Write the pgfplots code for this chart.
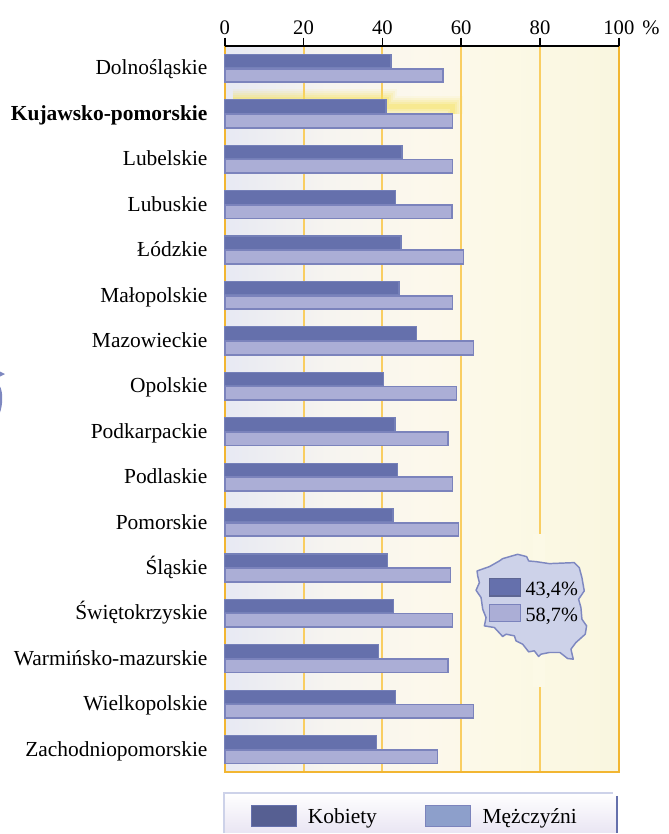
\documentclass[border=0pt]{standalone}
\usepackage{fontspec}
\setmainfont{Liberation Serif}
\usepackage{pgfplots}
\pgfplotsset{compat=1.18}
\definecolor{kob}{HTML}{6570AC}
\definecolor{kobedge}{HTML}{7580B8}
\definecolor{men}{HTML}{ABAED6}
\definecolor{menedge}{HTML}{7B83BC}
\definecolor{gridor}{HTML}{F9CE62}
\definecolor{frameor}{HTML}{F2B632}
\definecolor{mapfill}{HTML}{CDD2E9}
\definecolor{mapedge}{HTML}{7E88C0}
\definecolor{glow}{HTML}{F7E35A}
\definecolor{bgA}{HTML}{E7E9F3}
\definecolor{bgB}{HTML}{F6F4F0}
\definecolor{bgC}{HTML}{FCF8EC}
\definecolor{bgD}{HTML}{FCF9E6}
\definecolor{bgE}{HTML}{F9F6DF}
\definecolor{legA}{HTML}{E9E5F3}
\pgfdeclarehorizontalshading{plotbg}{100bp}{
  color(0bp)=(bgA); color(25bp)=(bgA); color(38bp)=(bgB); color(50bp)=(bgC);
  color(60bp)=(bgD); color(75bp)=(bgE); color(100bp)=(bgE)}
\pgfplotstableread{
row kobiety mezczyzni
0 42.2 55.3
1 40.9 57.8
2 45.0 57.8
3 43.4 57.6
4 44.7 60.6
5 44.2 57.8
6 48.7 63.1
7 40.2 58.8
8 43.2 56.6
9 43.9 57.8
10 42.7 59.3
11 41.4 57.3
12 42.9 57.8
13 39.1 56.6
14 43.4 63.1
15 38.6 54.0
}\regiony
\begin{document}
\begin{tikzpicture}[every node/.style={font=\fontsize{16.1}{16.1}\selectfont}]
\begin{scope}[x=0.75pt,y=-0.75pt]
\path[use as bounding box] (0,0) rectangle (669,834);
\end{scope}
\begin{axis}[
    at={(168.75pt,-580pt)}, anchor=south west,
    scale only axis,
    width=296pt, height=545.7pt,
    xmin=0, xmax=100,
    ymin=-0.497, ymax=15.505,
    y dir=reverse,
    clip=false,
    set layers,
    axis background/.style={shade,shading=plotbg},
    xbar,
    bar width=10.2pt,
    axis x line*=top,
    axis y line=none,
    xtick={0,20,40,60,80,100},
    xticklabels={0,20,40,60,80,100\rlap{\hspace{6pt}\%}},
    /pgf/number format/assume math mode=true,
    tick align=outside,
    major tick length=6pt,
    tick style={black,line width=1.2pt},
    x axis line style={black,line width=1.6pt,-},
    xticklabel style={font=\fontsize{15.5}{15.5}\selectfont,yshift=-1pt},
    xmajorgrids=true,
    grid style={gridor,line width=1.5pt},
]
% orange frame and the glow behind the highlighted region
\addplot[on layer=axis grid,sharp plot,forget plot,frameor,line width=1.6pt] coordinates {(0,-0.497)(0,15.505)(100,15.505)(100,-0.497)};
\foreach \w/\op in {16pt/0.08,13pt/0.12,10pt/0.15,7pt/0.2,4pt/0.3}{
  \edef\temp{\noexpand\addplot[on layer=axis grid,sharp plot,forget plot,glow,opacity=\op,line width=\w] coordinates {(2,0.682)(40.9,0.682)(40.9,0.836)(57.8,0.836)(57.8,1)};}
  \temp
}
\addplot[draw=kobedge,fill=kob,line width=0.9pt,bar shift=5.3pt] table[x=kobiety,y=row] {\regiony};
\addplot[draw=menedge,fill=men,line width=1.3pt,bar shift=-5.4pt] table[x=mezczyzni,y=row] {\regiony};
\end{axis}
\begin{scope}[x=0.75pt,y=-0.75pt]
  % gap in the 80 gridline behind the map
  \fill[fill=bgD] (534,535) rectangle (546,688);
  % fragment at the left edge
  \fill[mapedge] (0,372) -- (5,374.5) -- (0,377) -- cycle;
  \fill[mapedge] (0,387) .. controls (3,392) and (3,405) .. (0,413) -- cycle;
  % legend box
  \shade[top color=white,bottom color=legA] (224,794) rectangle (618,834);
  \draw[mapfill,line width=1.6pt] (224,834) -- (224,794) -- (614,794);
  \draw[kob,line width=1.6pt] (618,797) -- (618,834);
  \fill[fill=kob!85!black,draw=kob] (252,806) rectangle (297,827);
  \fill[fill={rgb,255:red,141;green,159;blue,203},draw=menedge] (426,806) rectangle (471,827);
  \node[anchor=base west,inner sep=0pt] at (308,825) {Kobiety};
  \node[anchor=base west,inner sep=0pt] at (483,825) {Mężczyźni};
  % category labels
  \foreach \yy/\name in {75/Dolnośląskie,165.9/Lubelskie,211.4/Lubuskie,256.9/Łódzkie,302.4/Małopolskie,347.8/Mazowieckie,393.3/Opolskie,438.8/Podkarpackie,484.2/Podlaskie,529.7/Pomorskie,575.2/Śląskie,620.7/Świętokrzyskie,666.1/Warmińsko-mazurskie,711.6/Wielkopolskie,757.1/Zachodniopomorskie}
    \node[anchor=base east,inner sep=0pt] at (208,\yy) {\name};
  \node[anchor=base east,inner sep=0pt] at (208,120.5) {\bfseries Kujawsko-pomorskie};
\end{scope}
% map of Poland, outline traced in 3x pixels from (440,520)
\begin{scope}[shift={(330pt,-390pt)},x=0.25pt,y=-0.25pt]
  \draw[fill=mapfill,draw=mapedge,line width=1.1pt,line join=round]
   (113,155)--(150,142)--(180,125)--(190,118)--(235,105)--(262,112)--(268,125)--(290,127)--(330,133)--(405,130)--(420,145)--(428,175)--(435,215)--(418,240)--(425,265)--(428,300)--(442,320)--(438,345)--(410,370)--(395,390)--(402,420)--(385,418)--(362,400)--(330,400)--(305,405)--(298,412)--(285,395)--(268,398)--(250,375)--(230,365)--(225,350)--(200,345)--(190,352)--(165,325)--(135,320)--(140,295)--(130,270)--(125,235)--(110,213)--(120,190)--(115,170)--cycle;
  \fill[fill=kob,draw=kobedge!80!black,line width=1pt] (150,178) rectangle (243,230);
  \fill[fill=men,draw=menedge,line width=1pt] (150,255) rectangle (243,307);
  \node[anchor=base west,inner sep=0pt,font=\fontsize{15.2}{15.2}\selectfont] at (258,228) {43,4\%};
  \node[anchor=base west,inner sep=0pt,font=\fontsize{15.2}{15.2}\selectfont] at (258,308) {58,7\%};
\end{scope}
\end{tikzpicture}
\end{document}
